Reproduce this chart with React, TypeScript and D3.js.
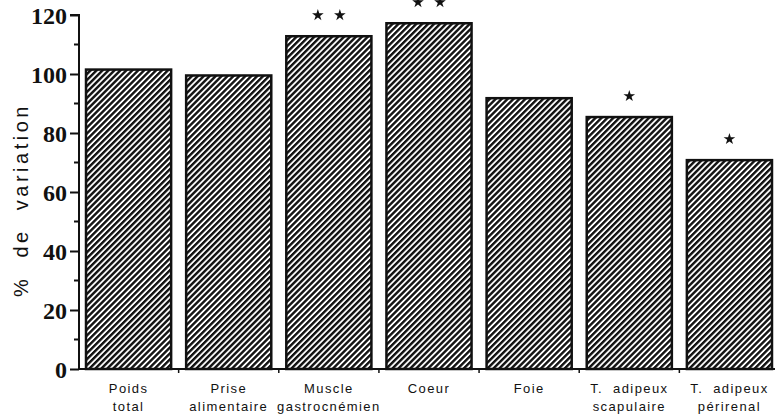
import React, { useEffect, useRef } from 'react';
import * as d3 from 'd3';

const categories = ['Poids total', 'Prise alimentaire', 'Muscle gastrocnémien', 'Coeur', 'Foie', 'T. adipeux scapulaire', 'T. adipeux périrenal'];
const labelLines = [['Poids', 'total'], ['Prise', 'alimentaire'], ['Muscle', 'gastrocnémien'], ['Coeur'], ['Foie'], ['T.  adipeux', 'scapulaire'], ['T.  adipeux', 'périrenal']];
const values = [101.5, 99.5, 112.8, 117.2, 91.8, 85.4, 70.8];
const stars = [0, 0, 2, 2, 0, 1, 1];
const yTicks = [0, 20, 40, 60, 80, 100, 120];

var margin = {top: 15, right: 0, bottom: 49, left: 79},
    width = 775 - margin.left - margin.right,
    height = 418 - margin.top - margin.bottom;

export default function App() {
  const ref = useRef(null);

  useEffect(() => {
    const root = d3.select(ref.current);
    root.selectAll('*').remove();

    const svg = root.append('svg')
      .attr('width', 775).attr('height', 418)
      .style('position', 'absolute').style('left', 0).style('top', 0)
      .style('background', '#fff');

    const pat = svg.append('defs').append('pattern')
      .attr('id', 'hatch')
      .attr('patternUnits', 'userSpaceOnUse')
      .attr('width', 4.2).attr('height', 4.2)
      .attr('patternTransform', 'rotate(45)');
    pat.append('rect').attr('width', 4.2).attr('height', 4.2).attr('fill', '#fff');
    pat.append('line').attr('x1', 0).attr('y1', 0).attr('x2', 0).attr('y2', 4.2)
      .attr('stroke', '#111').attr('stroke-width', 4.8);

    const g = svg.append('g').attr('transform', 'translate(' + margin.left + ',' + margin.top + ')');

    const x = d3.scaleBand().domain(categories).range([0, 700]).paddingInner(0.15).paddingOuter(0.07);
    const y = d3.scaleLinear().domain([0, 120]).range([height, 0]);

    // bars
    g.selectAll('rect.bar')
      .data(values)
      .enter().append('rect')
      .attr('class', 'bar')
      .attr('x', (d, i) => x(categories[i]))
      .attr('width', x.bandwidth())
      .attr('y', d => y(d))
      .attr('height', d => height - y(d))
      .attr('fill', 'url(#hatch)')
      .attr('stroke', '#111')
      .attr('stroke-width', 2.5);

    // significance stars
    const star = d3.symbol(d3.symbolStar).size(42);
    stars.forEach((n, i) => {
      const cx = x(categories[i]) + x.bandwidth() / 2;
      const offs = n == 2 ? [-11, 11] : n == 1 ? [0] : [];
      offs.forEach(o => {
        g.append('path').attr('d', star)
          .attr('transform', 'translate(' + (cx + o) + ',' + (y(values[i]) - 21) + ')')
          .attr('fill', '#111');
      });
    });

    // y axis
    const yAxis = d3.axisLeft(y).tickValues(yTicks).tickSize(9).tickPadding(3);
    const ya = g.append('g').call(yAxis);
    ya.attr('font-family', null).attr('font-size', null);
    ya.select('.domain').attr('stroke', '#111').attr('stroke-width', 2).attr('d', 'M0,' + height + 'V0H-9');
    ya.selectAll('.tick line').attr('stroke', '#111').attr('stroke-width', 2);
    ya.selectAll('.tick text')
      .attr('font-family', 'Liberation Serif, serif')
      .attr('font-size', 24)
      .attr('font-weight', 'bold')
      .attr('fill', '#111')
      .attr('dy', '0.35em');
    d3.range(10, 120, 20).forEach(v => {
      g.append('line').attr('x1', -5).attr('x2', 0).attr('y1', y(v)).attr('y2', y(v))
        .attr('stroke', '#111').attr('stroke-width', 2);
    });

    // x axis
    g.append('line').attr('x1', 0).attr('x2', 700).attr('y1', height).attr('y2', height)
      .attr('stroke', '#111').attr('stroke-width', 2);
    categories.slice(1).forEach(c => {
      const xx = x(c) - x.step() * x.paddingInner() / 2;
      g.append('line').attr('x1', xx).attr('x2', xx).attr('y1', height).attr('y2', height + 4)
        .attr('stroke', '#111').attr('stroke-width', 1.5);
    });

    const labels = g.selectAll('text.xl')
      .data(labelLines)
      .enter().append('text')
      .attr('text-anchor', 'middle')
      .attr('transform', (d, i) => 'translate(' + (x(categories[i]) + x.bandwidth() / 2) + ',' + (height + 24) + ')')
      .attr('font-family', 'Liberation Sans, Arial, sans-serif')
      .attr('font-size', 13)
      .attr('letter-spacing', 1.4)
      .attr('fill', '#111')
      .attr('xml:space', 'preserve');
    labels.each(function (lines) {
      lines.forEach((t, k) => {
        d3.select(this).append('tspan').attr('x', 0).attr('y', k * 18).text(t);
      });
    });

    svg.append('text')
      .attr('transform', 'translate(28,' + 200 + ') rotate(-90)')
      .attr('text-anchor', 'middle')
      .attr('font-family', 'Liberation Sans, Arial, sans-serif')
      .attr('font-size', 20)
      .attr('letter-spacing', 3.5)
      .attr('fill', '#111')
      .attr('xml:space', 'preserve')
      .text('%  de  variation');
  }, []);

  return <div ref={ref} style={{width: 775, height: 418}}></div>;
}
